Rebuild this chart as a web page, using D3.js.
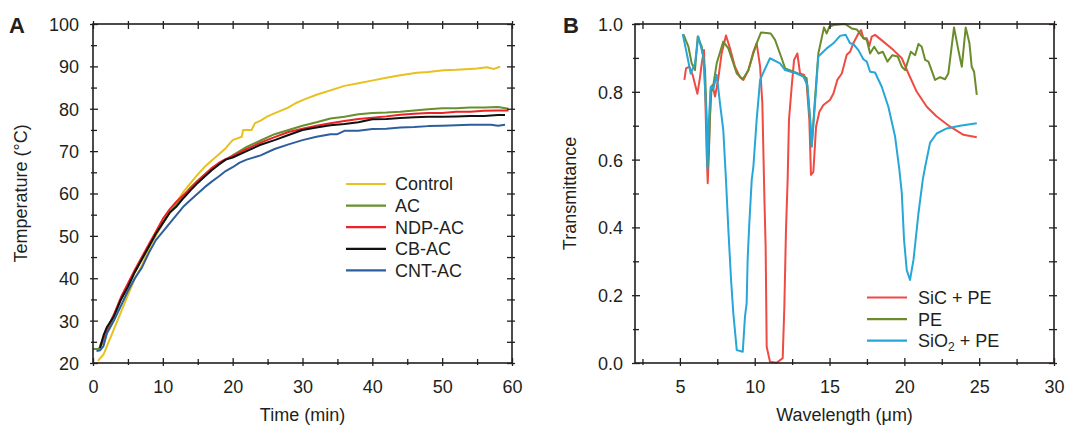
<!DOCTYPE html>
<html>
<head>
<meta charset="utf-8">
<script src="https://cdn.jsdelivr.net/npm/d3@7"></script>
<style>
  html, body { margin: 0; padding: 0; background: #fff; }
  svg { display: block; font-family: "Liberation Sans", Arial, Helvetica, sans-serif; }
</style>
</head>
<body>
<svg id="chart" width="1067" height="428"></svg>
<script>
// ---------------- Panel A data: temperature vs time ----------------
const seriesNamesA = ["Control", "AC", "NDP-AC", "CB-AC", "CNT-AC"];

const controlTime = [0.7,1.5,2.5,3,4,5,6,7,8,9,10,11,12,13,14,15,16,17,18,19,20,21.3,21.5,22.7,23.2,24,25,25.8,27,28,29,30.1,32,34.9,36,38,40.1,42,44,46.4,48,50.2,52,54,55,56.4,57.4,58.3];
const controlTemp = [20.5,22,26,28,32,36,40,43,47,50,53,55.5,58,60.5,62.5,64.5,66.3,67.8,69.2,70.7,72.6,73.4,75,75,76.6,77.2,78.2,78.8,79.6,80.3,81.3,82.1,83.3,84.8,85.4,86,86.7,87.3,87.9,88.5,88.7,89.1,89.2,89.4,89.5,89.8,89.4,89.9];

const acTime = [0,0.8,1.3,1.8,2.5,3,4,5,6,7,8,9,10,11,12,13,14,15,16,17,18,19,20,22,24,26,28,30,32,34,36,38,40,42,44,46,48,50,52,54,56,58,59.5];
const acTemp = [23.3,23.3,24.5,27,29,31,35,38,41.5,44.5,47.5,50.5,53,55.5,57.5,59.5,61.5,63,64.5,65.8,67,68,69,71,72.5,74,75,76,76.8,77.7,78.1,78.7,79,79.1,79.3,79.6,79.9,80.1,80.1,80.3,80.3,80.4,80];

const ndpTime = [1,1.5,2,3,4,5,6,7,8,9,10,11,12,13,14,15,16,17,18,19,20,22,24,26,28,30,32,34,36,38,40,42,44,46,48,50,52,54,56,58,59.5];
const ndpTemp = [24,26,28,31.5,35.5,38.8,42,45,48,51,54,56.3,58.2,59.7,61.3,63,64.5,66,67.2,68.1,68.8,70.5,72,73.3,74.5,75.3,76,76.6,77.1,77.6,77.9,78.2,78.6,78.8,79,79,79.3,79.3,79.5,79.6,79.6];

const cbTime = [1,1.5,2,3,4,5,6,7,8,9,10,11,12,13,14,15,16,17,18,19,20,22,24,26,28,30,32,34,36,38,40,42,44,46,48,50,52,54,56,58,59];
const cbTemp = [23.5,26.5,28.5,31,35,38,41.5,44.5,47.5,50.5,53,55.5,57,59,60.8,62.5,64,65.5,66.8,68,68.5,70,71.5,72.6,73.8,75,75.6,76.1,76.4,76.8,77.5,77.6,77.8,78,78.1,78.1,78.2,78.3,78.3,78.5,78.5];

const cntTime = [0.5,1,1.5,2,3,4,5,6,7,8,9,10,11,12,13,14,15,16,17,18,19,20,21,22,24,26,28,30,32,34,35,36,38,40,42,44,46,48,50,52,54,56,57,58,59];
const cntTemp = [22.8,23,24,27,30,33.5,37,40,42.5,46,49,51,53,55,57,58.5,60,61.5,62.8,64,65.3,66.2,67.3,68,69,70.5,71.6,72.6,73.4,74,74,74.8,74.8,75.2,75.3,75.6,75.7,75.9,76,76.1,76.2,76.2,76.2,76,76.2];

const xTicksA = [0,10,20,30,40,50,60];
const xMinorA = [5,15,25,35,45,55];
const yTicksA = [20,30,40,50,60,70,80,90,100];
const yMinorA = [25,35,45,55,65,75,85,95];

// ---------------- Panel B data: transmittance vs wavelength ----------------
const seriesNamesB = ["SiC + PE", "PE", "SiO2 + PE"];

const sicWave = [5.3,5.41,5.63,5.85,6.17,6.35,6.46,6.61,6.68,6.79,6.86,6.92,7.06,7.17,7.35,7.57,7.79,8.08,8.35,8.68,9.02,9.24,9.58,9.91,10.13,10.36,10.51,10.65,10.73,10.8,11.02,11.47,11.87,11.98,12.09,12.2,12.29,12.47,12.63,12.85,13.03,13.3,13.47,13.65,13.76,13.92,14.1,14.32,14.59,15.03,15.26,15.52,15.82,16.15,16.37,16.59,16.93,17.11,17.26,17.49,17.66,17.82,18.04,18.6,19.27,19.83,20.27,20.83,21.5,22.16,23.06,23.95,24.84];
const sicTrans = [0.835,0.869,0.874,0.850,0.794,0.845,0.884,0.923,0.815,0.618,0.530,0.599,0.805,0.820,0.786,0.840,0.913,0.966,0.928,0.874,0.843,0.835,0.864,0.918,0.943,0.874,0.766,0.481,0.343,0.048,0.004,0.001,0.014,0.166,0.392,0.54,0.717,0.815,0.894,0.913,0.854,0.850,0.825,0.717,0.555,0.564,0.697,0.741,0.761,0.776,0.795,0.835,0.854,0.909,0.918,0.943,0.972,0.982,0.958,0.958,0.935,0.963,0.968,0.948,0.923,0.899,0.854,0.800,0.756,0.727,0.697,0.673,0.666];

const peWave = [5.23,5.57,5.79,6.01,6.19,6.46,6.68,6.79,6.86,6.93,7.0,7.1,7.2,7.46,7.9,8.24,8.8,9.2,9.58,9.91,10.13,10.42,11.07,11.36,11.8,12.03,12.81,13.47,13.7,13.81,14.03,14.25,14.63,14.81,14.99,15.26,16.04,16.48,16.82,17.26,17.49,17.71,17.98,18.27,18.56,18.87,19.2,19.56,19.83,20.05,20.43,20.72,20.94,21.16,21.39,21.61,22.05,22.39,22.72,22.94,23.32,23.61,23.84,24.1,24.35,24.5,24.66,24.84];
const peTrans = [0.970,0.933,0.884,0.864,0.963,0.933,0.864,0.717,0.579,0.62,0.717,0.80,0.81,0.884,0.948,0.928,0.854,0.837,0.864,0.913,0.943,0.975,0.972,0.953,0.899,0.869,0.856,0.840,0.72,0.64,0.78,0.913,0.990,0.972,0.992,0.997,1.0,0.987,0.984,0.958,0.953,0.913,0.933,0.913,0.918,0.889,0.908,0.904,0.874,0.864,0.918,0.908,0.941,0.933,0.894,0.889,0.835,0.843,0.837,0.854,0.990,0.923,0.874,0.990,0.943,0.874,0.859,0.791];

const sio2Wave = [5.19,5.5,5.72,6.01,6.23,6.57,6.75,6.84,6.92,7.06,7.24,7.46,7.68,7.9,8.08,8.24,8.42,8.57,8.8,9.2,9.35,9.46,9.53,9.64,9.8,9.91,10.13,10.36,10.65,11.02,11.69,12.03,12.81,13.25,13.52,13.7,13.81,14.03,14.25,14.81,15.26,15.7,16.08,16.37,16.59,16.93,17.26,17.49,17.71,18.04,18.49,18.93,19.38,19.67,19.83,19.98,20.16,20.38,20.61,20.94,21.23,21.39,21.72,22.16,22.83,23.72,24.84];
const sio2Trans = [0.970,0.904,0.854,0.884,0.963,0.904,0.75,0.574,0.70,0.815,0.81,0.850,0.766,0.687,0.54,0.392,0.245,0.147,0.038,0.033,0.137,0.176,0.309,0.412,0.54,0.579,0.717,0.835,0.864,0.899,0.884,0.864,0.854,0.845,0.820,0.717,0.638,0.766,0.904,0.928,0.943,0.965,0.968,0.943,0.941,0.923,0.896,0.889,0.859,0.857,0.815,0.756,0.668,0.569,0.500,0.363,0.274,0.245,0.304,0.441,0.54,0.579,0.65,0.677,0.692,0.700,0.707];

const xTicksB = [5,10,15,20,25,30];
const xMinorB = [2.5,7.5,12.5,17.5,22.5,27.5];
const yTicksB = [0,0.2,0.4,0.6,0.8,1.0];
const yMinorB = [0.1,0.3,0.5,0.7,0.9];

// ---------------- Drawing ----------------
const svg = d3.select("#chart");
const INK = "#231f20";
const FS = 18;

const colorsA = ["#e8c020", "#67902e", "#ec2227", "#111111", "#2d5f9c"];
const colorsB = ["#ef4b43", "#6b8c2c", "#27a6d8"];

function frameAxes(g, x, y, w, h, xMajor, xMinor, yMajor, yMinor, xFmt, yFmt, yLabelGap) {
  const IN = 5, OUT = 3, MIN_IN = 4, MIN_OUT = 2;
  function style(sel) {
    sel.select(".domain").remove();
    sel.selectAll(".tick line").attr("stroke", INK).attr("stroke-width", 1.3);
    sel.selectAll(".tick text").attr("fill", INK).attr("font-size", FS)
       .attr("font-family", "Liberation Sans, Arial, sans-serif");
  }
  // bottom
  const b = g.append("g").attr("transform", `translate(0,${h})`)
    .call(d3.axisBottom(x).tickValues(xMajor).tickFormat(xFmt));
  style(b);
  b.selectAll(".tick line").attr("y1", -IN).attr("y2", OUT);
  b.selectAll(".tick text").attr("y", 17).attr("dy", "0.71em");
  const bm = g.append("g").attr("transform", `translate(0,${h})`)
    .call(d3.axisBottom(x).tickValues(xMinor).tickFormat(""));
  style(bm);
  bm.selectAll(".tick line").attr("y1", -MIN_IN).attr("y2", MIN_OUT);
  // top
  const t = g.append("g").call(d3.axisTop(x).tickValues(xMajor.concat(xMinor)).tickFormat(""));
  style(t);
  t.selectAll(".tick line").attr("y1", IN).attr("y2", -OUT);
  // left
  const l = g.append("g").call(d3.axisLeft(y).tickValues(yMajor).tickFormat(yFmt));
  style(l);
  l.selectAll(".tick line").attr("x1", IN).attr("x2", -OUT);
  l.selectAll(".tick text").attr("x", -yLabelGap).attr("dy", "0.36em");
  const lm = g.append("g").call(d3.axisLeft(y).tickValues(yMinor).tickFormat(""));
  style(lm);
  lm.selectAll(".tick line").attr("x1", MIN_IN).attr("x2", -MIN_OUT);
  // right
  const r = g.append("g").attr("transform", `translate(${w},0)`)
    .call(d3.axisRight(y).tickValues(yMajor.concat(yMinor)).tickFormat(""));
  style(r);
  r.selectAll(".tick line").attr("x1", -IN).attr("x2", OUT);
  // frame
  g.append("rect").attr("x", 0).attr("y", 0).attr("width", w).attr("height", h)
    .attr("fill", "none").attr("stroke", INK).attr("stroke-width", 1.6);
}

// ---- Panel A ----
const A = { left: 93, top: 24, right: 512, bottom: 363 };
const wA = A.right - A.left, hA = A.bottom - A.top;
const gA = svg.append("g").attr("transform", `translate(${A.left},${A.top})`);
const xA = d3.scaleLinear().domain([0, 60]).range([0, wA]);
const yA = d3.scaleLinear().domain([20, 100]).range([hA, 0]);

const dataA = [
  [controlTime, controlTemp],
  [acTime, acTemp],
  [ndpTime, ndpTemp],
  [cbTime, cbTemp],
  [cntTime, cntTemp]
];
const lineA = d3.line().x(d => xA(d[0])).y(d => yA(d[1]));
dataA.forEach((s, i) => {
  const pts = s[0].map((t, k) => [t, s[1][k]]);
  gA.append("path").datum(pts).attr("d", lineA)
    .attr("fill", "none").attr("stroke", colorsA[i]).attr("stroke-width", 2)
    .attr("stroke-linejoin", "round");
});
frameAxes(gA, xA, yA, wA, hA, xTicksA, xMinorA, yTicksA, yMinorA, d3.format("d"), d3.format("d"), 14);

// legend A
const legA = svg.append("g");
seriesNamesA.forEach((n, i) => {
  const yy = 184 + i * 21.6;
  legA.append("line").attr("x1", 346).attr("x2", 386).attr("y1", yy).attr("y2", yy)
    .attr("stroke", colorsA[i]).attr("stroke-width", 2.2);
  legA.append("text").attr("x", 395).attr("y", yy).attr("dy", "0.36em")
    .attr("font-size", FS).attr("fill", INK).text(n);
});

// titles A
svg.append("text").attr("x", (A.left + A.right) / 2).attr("y", 421)
  .attr("text-anchor", "middle").attr("font-size", FS).attr("fill", INK).text("Time (min)");
svg.append("text").attr("transform", `translate(27,${(A.top + A.bottom) / 2}) rotate(-90)`)
  .attr("text-anchor", "middle").attr("font-size", FS).attr("fill", INK).text("Temperature (°C)");
svg.append("text").attr("x", 9).attr("y", 33).attr("font-size", 22).attr("font-weight", "bold")
  .attr("fill", INK).text("A");

// ---- Panel B ----
const B = { left: 635, top: 24, right: 1054, bottom: 363 };
const wB = B.right - B.left, hB = B.bottom - B.top;
const gB = svg.append("g").attr("transform", `translate(${B.left},${B.top})`);
const xB = d3.scaleLinear().domain([2, 30]).range([0, wB]);
const yB = d3.scaleLinear().domain([0, 1]).range([hB, 0]);

const dataB = [
  [sicWave, sicTrans],
  [peWave, peTrans],
  [sio2Wave, sio2Trans]
];
const lineB = d3.line().x(d => xB(d[0])).y(d => yB(d[1]));
dataB.forEach((s, i) => {
  const pts = s[0].map((t, k) => [t, s[1][k]]);
  gB.append("path").datum(pts).attr("d", lineB)
    .attr("fill", "none").attr("stroke", colorsB[i]).attr("stroke-width", 2)
    .attr("stroke-linejoin", "round");
});
frameAxes(gB, xB, yB, wB, hB, xTicksB, xMinorB, yTicksB, yMinorB, d3.format("d"), d3.format(".1f"), 12);

// legend B
const legB = svg.append("g");
seriesNamesB.forEach((n, i) => {
  const yy = 297.5 + i * 21.6;
  legB.append("line").attr("x1", 867).attr("x2", 907).attr("y1", yy).attr("y2", yy)
    .attr("stroke", colorsB[i]).attr("stroke-width", 2.2);
  const t = legB.append("text").attr("x", 918).attr("y", yy).attr("dy", "0.36em")
    .attr("font-size", FS).attr("fill", INK);
  const m = n.match(/^(.*?)(\d)(.*)$/);
  if (m) {
    t.append("tspan").text(m[1]);
    t.append("tspan").attr("font-size", 12).attr("dy", "4").text(m[2]);
    t.append("tspan").attr("dy", "-4").text(m[3]);
  } else {
    t.text(n);
  }
});

// titles B
svg.append("text").attr("x", (B.left + B.right) / 2).attr("y", 421)
  .attr("text-anchor", "middle").attr("font-size", FS).attr("fill", INK).text("Wavelength (μm)");
svg.append("text").attr("transform", `translate(576,${(B.top + B.bottom) / 2}) rotate(-90)`)
  .attr("text-anchor", "middle").attr("font-size", FS).attr("fill", INK).text("Transmittance");
svg.append("text").attr("x", 563).attr("y", 33).attr("font-size", 22).attr("font-weight", "bold")
  .attr("fill", INK).text("B");
</script>
</body>
</html>
